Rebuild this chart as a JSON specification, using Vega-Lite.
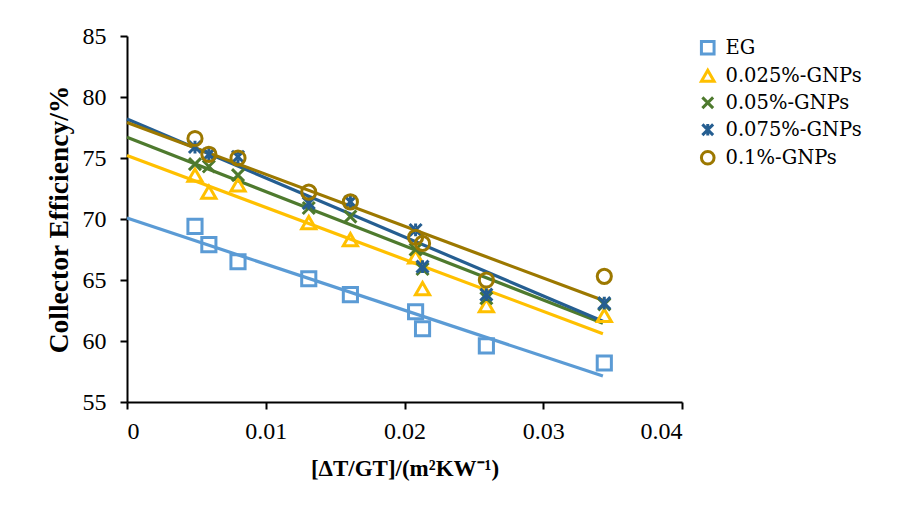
{
  "$schema": "https://vega.github.io/schema/vega-lite/v6.json",
  "width": 555,
  "height": 366,
  "autosize": {"type": "none"},
  "padding": {"left": 127, "top": 36, "right": 226, "bottom": 115},
  "background": "white",
  "config": {
    "view": {"stroke": null},
    "font": "Liberation Serif",
    "axis": {
      "labelFont": "Liberation Serif",
      "titleFont": "Liberation Serif",
      "labelFontSize": 24,
      "titleFontSize": 23,
      "labelColor": "#000000",
      "titleColor": "#000000",
      "domainColor": "#000000",
      "tickColor": "#000000",
      "domainWidth": 2,
      "tickWidth": 2,
      "tickSize": 7,
      "grid": false
    },
    "legend": {
      "labelFont": "DejaVu Serif",
      "labelFontSize": 19.5,
      "labelColor": "#000000",
      "orient": "none",
      "legendX": 571,
      "legendY": 2,
      "padding": 0,
      "rowPadding": 3,
      "symbolSize": 160,
      "symbolStrokeWidth": 3,
      "symbolFillColor": "transparent",
      "labelOffset": 8
    }
  },
  "data": {
    "values": [
      {"x": 0.0049, "y": 69.4, "series": "EG"},
      {"x": 0.0059, "y": 67.9, "series": "EG"},
      {"x": 0.008, "y": 66.5, "series": "EG"},
      {"x": 0.0131, "y": 65.1, "series": "EG"},
      {"x": 0.0161, "y": 63.8, "series": "EG"},
      {"x": 0.0208, "y": 62.4, "series": "EG"},
      {"x": 0.0213, "y": 61.0, "series": "EG"},
      {"x": 0.0259, "y": 59.6, "series": "EG"},
      {"x": 0.0344, "y": 58.2, "series": "EG"},
      {"x": 0.0049, "y": 73.6, "series": "0.025%-GNPs"},
      {"x": 0.0059, "y": 72.2, "series": "0.025%-GNPs"},
      {"x": 0.008, "y": 72.8, "series": "0.025%-GNPs"},
      {"x": 0.0131, "y": 69.7, "series": "0.025%-GNPs"},
      {"x": 0.0161, "y": 68.3, "series": "0.025%-GNPs"},
      {"x": 0.0208, "y": 66.9, "series": "0.025%-GNPs"},
      {"x": 0.0213, "y": 64.3, "series": "0.025%-GNPs"},
      {"x": 0.0259, "y": 62.9, "series": "0.025%-GNPs"},
      {"x": 0.0344, "y": 62.1, "series": "0.025%-GNPs"},
      {"x": 0.0049, "y": 74.5, "series": "0.05%-GNPs"},
      {"x": 0.0059, "y": 74.3, "series": "0.05%-GNPs"},
      {"x": 0.008, "y": 73.6, "series": "0.05%-GNPs"},
      {"x": 0.0131, "y": 70.9, "series": "0.05%-GNPs"},
      {"x": 0.0161, "y": 70.2, "series": "0.05%-GNPs"},
      {"x": 0.0208, "y": 67.5, "series": "0.05%-GNPs"},
      {"x": 0.0213, "y": 65.9, "series": "0.05%-GNPs"},
      {"x": 0.0259, "y": 63.5, "series": "0.05%-GNPs"},
      {"x": 0.0344, "y": 63.0, "series": "0.05%-GNPs"},
      {"x": 0.0049, "y": 75.9, "series": "0.075%-GNPs"},
      {"x": 0.0059, "y": 75.3, "series": "0.075%-GNPs"},
      {"x": 0.008, "y": 75.1, "series": "0.075%-GNPs"},
      {"x": 0.0131, "y": 71.3, "series": "0.075%-GNPs"},
      {"x": 0.0161, "y": 71.4, "series": "0.075%-GNPs"},
      {"x": 0.0208, "y": 69.1, "series": "0.075%-GNPs"},
      {"x": 0.0213, "y": 66.1, "series": "0.075%-GNPs"},
      {"x": 0.0259, "y": 63.8, "series": "0.075%-GNPs"},
      {"x": 0.0344, "y": 63.1, "series": "0.075%-GNPs"},
      {"x": 0.0049, "y": 76.6, "series": "0.1%-GNPs"},
      {"x": 0.0059, "y": 75.3, "series": "0.1%-GNPs"},
      {"x": 0.008, "y": 75.0, "series": "0.1%-GNPs"},
      {"x": 0.0131, "y": 72.2, "series": "0.1%-GNPs"},
      {"x": 0.0161, "y": 71.4, "series": "0.1%-GNPs"},
      {"x": 0.0208, "y": 68.5, "series": "0.1%-GNPs"},
      {"x": 0.0213, "y": 68.0, "series": "0.1%-GNPs"},
      {"x": 0.0259, "y": 65.0, "series": "0.1%-GNPs"},
      {"x": 0.0344, "y": 65.3, "series": "0.1%-GNPs"}
    ]
  },
  "layer": [
    {
      "transform": [
        {"regression": "y", "on": "x", "groupby": ["series"], "extent": [0, 0.0343]}
      ],
      "mark": {"type": "line", "strokeWidth": 3.2},
      "encoding": {
        "x": {"field": "x", "type": "quantitative"},
        "y": {"field": "y", "type": "quantitative"},
        "color": {
          "field": "series",
          "type": "nominal",
          "title": null,
          "scale": {
            "domain": ["EG", "0.025%-GNPs", "0.05%-GNPs", "0.075%-GNPs", "0.1%-GNPs"],
            "range": ["#5B9BD5", "#FFC000", "#4E7A2E", "#255E91", "#9C7800"]
          }
        }
      }
    },
    {
      "mark": {"type": "point", "filled": false, "strokeWidth": 3, "size": 200, "opacity": 1},
      "encoding": {
        "x": {
          "field": "x",
          "type": "quantitative",
          "scale": {"domain": [0, 0.04], "nice": false},
          "axis": {
            "values": [0, 0.01, 0.02, 0.03, 0.04],
            "format": ".2~f",
            "labelPadding": 10,
            "title": "[ΔT/GT]/(m²KW⁻¹)",
            "titleFontWeight": "bold",
            "titlePadding": 14
          }
        },
        "y": {
          "field": "y",
          "type": "quantitative",
          "scale": {"domain": [55, 85], "nice": false, "zero": false},
          "axis": {
            "values": [55, 60, 65, 70, 75, 80, 85],
            "labelPadding": 14,
            "title": "Collector  Efficiency/%",
            "titleFontWeight": "bold",
            "titleFontSize": 27.5,
            "titlePadding": 9
          }
        },
        "color": {
          "field": "series",
          "type": "nominal",
          "title": null,
          "scale": {
            "domain": ["EG", "0.025%-GNPs", "0.05%-GNPs", "0.075%-GNPs", "0.1%-GNPs"],
            "range": ["#5B9BD5", "#FFC000", "#4E7A2E", "#255E91", "#9C7800"]
          }
        },
        "shape": {
          "field": "series",
          "type": "nominal",
          "title": null,
          "scale": {
            "domain": ["EG", "0.025%-GNPs", "0.05%-GNPs", "0.075%-GNPs", "0.1%-GNPs"],
            "range": [
              "square",
              "triangle-up",
              "M-0.85,-0.85L0.85,0.85M-0.85,0.85L0.85,-0.85",
              "M-0.85,-0.85L0.85,0.85M-0.85,0.85L0.85,-0.85M0,-0.9L0,-0.35M0,0.35L0,0.9",
              "circle"
            ]
          }
        }
      }
    }
  ]
}
